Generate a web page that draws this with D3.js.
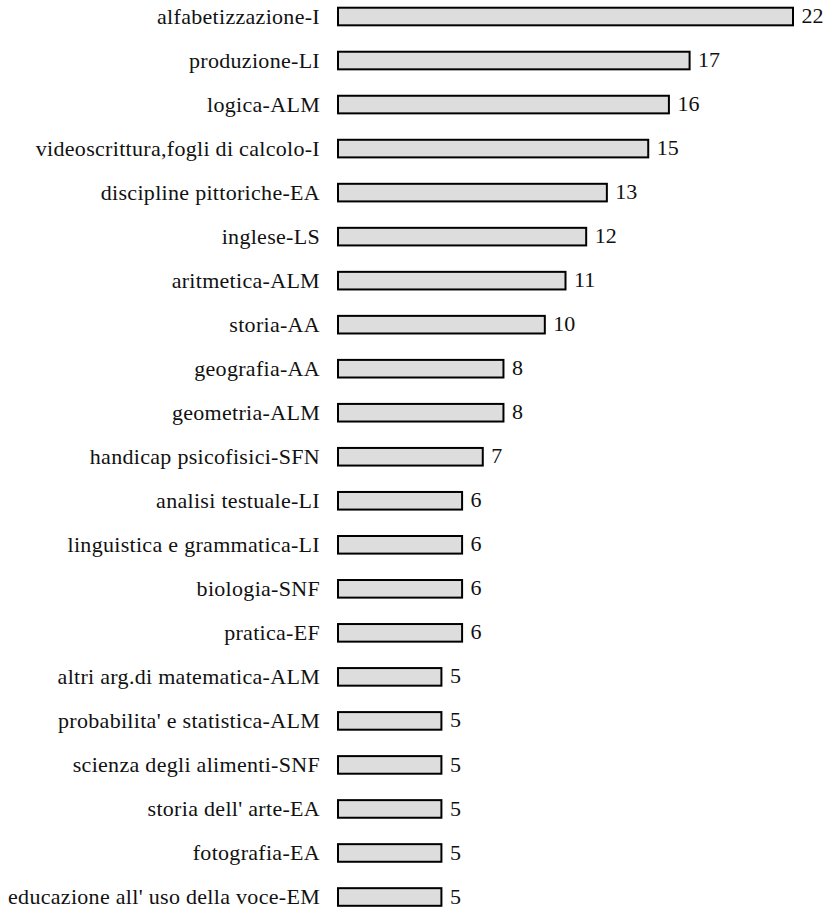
<!DOCTYPE html>
<html><head><meta charset="utf-8">
<script src="https://cdn.jsdelivr.net/npm/d3@7"></script>
<style>html,body{margin:0;padding:0;background:#fff;} text{font-family:"Liberation Serif","Times New Roman",serif;}</style>
</head><body>
<script>
const categories = ["alfabetizzazione-I","produzione-LI","logica-ALM","videoscrittura,fogli di calcolo-I","discipline pittoriche-EA","inglese-LS","aritmetica-ALM","storia-AA","geografia-AA","geometria-ALM","handicap psicofisici-SFN","analisi testuale-LI","linguistica e grammatica-LI","biologia-SNF","pratica-EF","altri arg.di matematica-ALM","probabilita' e statistica-ALM","scienza degli alimenti-SNF","storia dell' arte-EA","fotografia-EA","educazione all' uso della voce-EM"];
const values = [22,17,16,15,13,12,11,10,8,8,7,6,6,6,6,5,5,5,5,5,5];

const W = 827, H = 908;
const svg = d3.select("body").append("svg").attr("width", W).attr("height", H);
const x = d3.scaleLinear().domain([0, 22]).range([338, 793]);
const y = d3.scaleBand().domain(categories).range([-5.5, 919]).paddingInner(0.6).paddingOuter(0.3);

const g = svg.append("g");
g.selectAll("rect").data(values).join("rect")
  .attr("x", x(0)).attr("y", (d,i) => y(categories[i]))
  .attr("width", d => x(d) - x(0)).attr("height", y.bandwidth())
  .attr("fill", "#dddddd").attr("stroke", "#000").attr("stroke-width", 2);

g.selectAll("text.cat").data(categories).join("text").attr("class","cat")
  .attr("x", 320).attr("y", d => y(d) + y.bandwidth()/2)
  .attr("dy", "0.34em").attr("text-anchor", "end")
  .attr("font-size", 22).attr("letter-spacing", "0.3px")
  .attr("fill", "#111").text(d => d);

g.selectAll("text.val").data(values).join("text").attr("class","val")
  .attr("x", d => x(d) + 8.5).attr("y", (d,i) => y(categories[i]) + y.bandwidth()/2)
  .attr("dy", "0.3em")
  .attr("font-size", 22)
  .attr("fill", "#111").text(d => d);
</script>
</body></html>
